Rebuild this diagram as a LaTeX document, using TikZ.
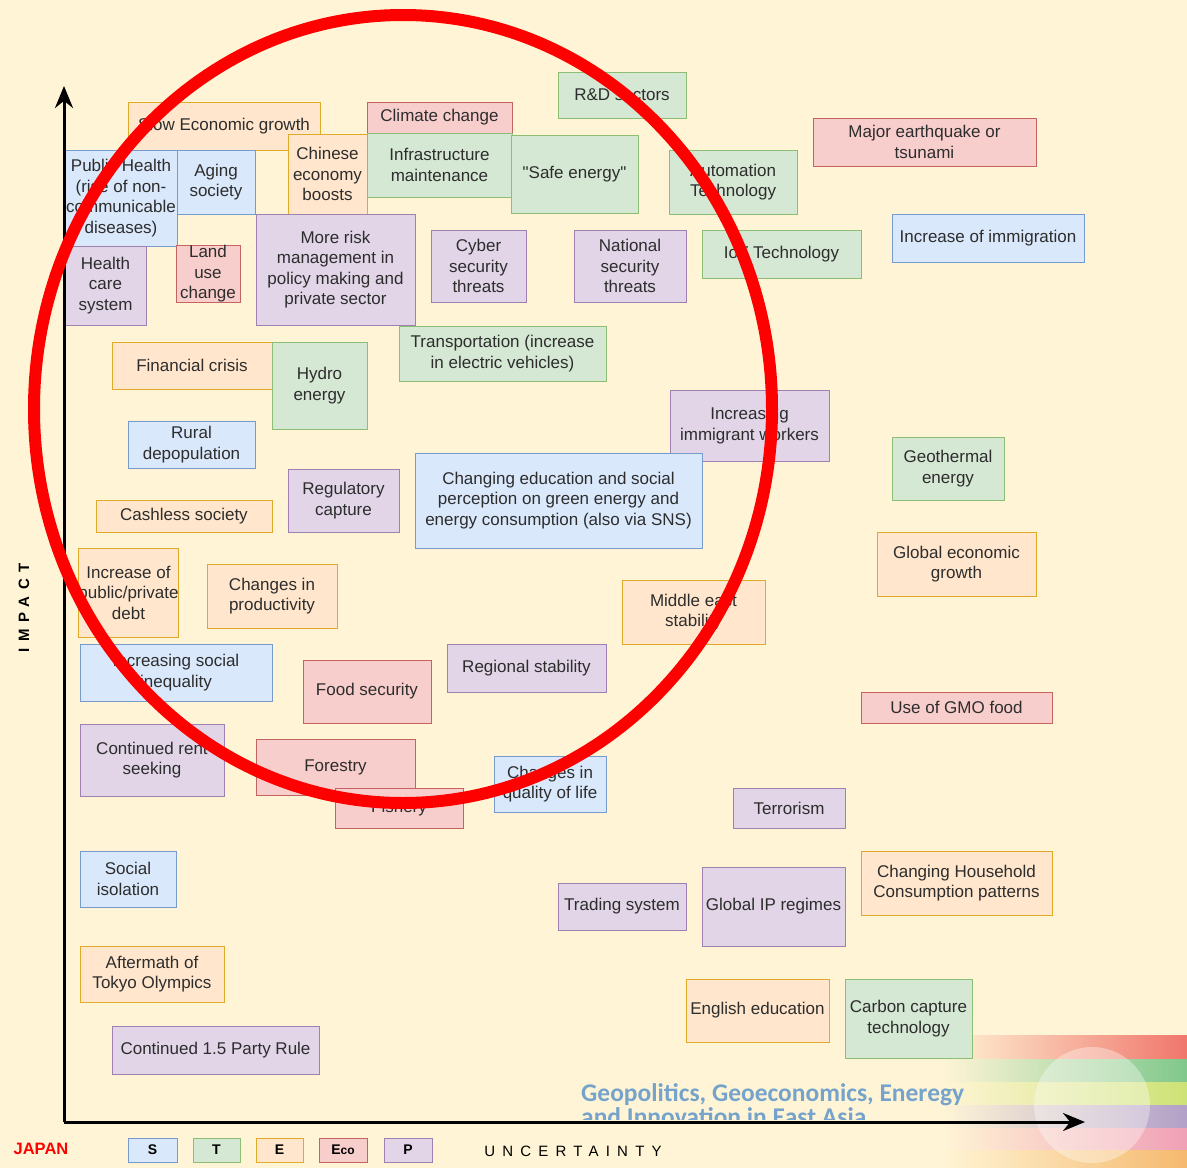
\documentclass[tikz,border=0pt]{standalone}
\usepackage{fontspec}
\setmainfont{Liberation Sans}
\newfontfamily\logofont{Carlito}
\usetikzlibrary{arrows.meta}
\newcommand\straightquote{\XeTeXglyph\XeTeXcharglyph"22\relax}
\definecolor{paper}{RGB}{255,245,214}
\definecolor{socfill}{RGB}{218,232,252}
\definecolor{socline}{RGB}{120,155,205}
\definecolor{tecfill}{RGB}{213,232,212}
\definecolor{tecline}{RGB}{140,190,115}
\definecolor{ecnfill}{RGB}{255,230,204}
\definecolor{ecnline}{RGB}{222,170,40}
\definecolor{ecofill}{RGB}{248,206,204}
\definecolor{ecoline}{RGB}{195,100,96}
\definecolor{polfill}{RGB}{225,213,231}
\definecolor{polline}{RGB}{160,128,176}
\definecolor{logoblue}{RGB}{118,163,203}
\definecolor{boxtext}{RGB}{45,45,45}

\begin{document}
\begin{tikzpicture}[x=1pt,y=-1pt,
  box/.style={draw, line width=0.9pt, inner sep=0pt, outer sep=0pt, align=center,
    text=boxtext, font=\fontsize{17}{20.5}\selectfont},
  social/.style={box, fill=socfill, draw=socline},
  techno/.style={box, fill=tecfill, draw=tecline},
  econ/.style={box, fill=ecnfill, draw=ecnline},
  ecol/.style={box, fill=ecofill, draw=ecoline},
  polit/.style={box, fill=polfill, draw=polline},
  legend/.style={minimum width=48pt, minimum height=24pt, font=\fontsize{14}{14}\selectfont\bfseries, text=black},
  axis/.style={line width=3pt, -{Stealth[length=22pt,width=18pt]}},
  spaced/.style={font=\fontsize{15}{15}\selectfont\addfontfeatures{LetterSpace=48}},
  spacedbold/.style={font=\fontsize{15}{15}\selectfont\bfseries\addfontfeatures{LetterSpace=44}}]
  \useasboundingbox (0,0) rectangle (1187,1168);
  \fill[paper] (0,0) rectangle (1187,1168);

  % corner stripes
  \shade[left color=paper, right color={rgb,255:red,240;green,118;blue,108}] (940,1035) rectangle (1187,1059);
  \shade[left color=paper, right color={rgb,255:red,128;green,200;blue,140}] (940,1059) rectangle (1187,1082);
  \shade[left color=paper, right color={rgb,255:red,205;green,226;blue,118}] (940,1082) rectangle (1187,1105);
  \shade[left color=paper, right color={rgb,255:red,178;green,160;blue,200}] (940,1105) rectangle (1187,1128);
  \shade[left color=paper, right color={rgb,255:red,240;green,160;blue,182}] (940,1128) rectangle (1187,1150);
  \shade[left color=paper, right color={rgb,255:red,245;green,185;blue,110}] (940,1150) rectangle (1187,1168);
  \fill[white, opacity=0.35] (1092,1105) circle (58pt);
  \begin{scope}
    \clip (560,1070) rectangle (1000,1119);
    \node[anchor=base west, inner sep=0pt, text=logoblue, font=\logofont\bfseries\fontsize{25.5}{25.5}\selectfont] (logoa) at (581,1101) {Geopolitics, Geoeconomics, Eneregy};
    \node[anchor=base west, inner sep=0pt, text=logoblue, font=\logofont\bfseries\fontsize{25.5}{25.5}\selectfont] (logob) at (581,1125) {and Innovation in East Asia};
  \end{scope}

  \node[econ, minimum width=192pt, minimum height=48pt] (slow) at (224,126) {Slow Economic growth};
  \node[social, minimum width=112pt, minimum height=96pt] (pubhealth) at (121,198) {Public Health\\(rise of non-\\communicable\\diseases)};
  \node[social, minimum width=78pt, minimum height=64pt] (aging) at (216,182) {Aging\\society};
  \node[econ, minimum width=79pt, minimum height=80pt] (chinese) at (327.5,174) {Chinese\\economy\\boosts};
  \node[ecol, minimum width=145pt, minimum height=31pt] (climate) at (439.5,117.5) {Climate change};
  \node[techno, minimum width=145pt, minimum height=64pt] (infra) at (439.5,165) {Infrastructure\\maintenance};
  \node[techno, minimum width=127pt, minimum height=78pt] (safe) at (574.5,174) {\straightquote Safe energy\straightquote};
  \node[techno, minimum width=128pt, minimum height=46pt] (rnd) at (622,95) {R\&D sectors};
  \node[techno, minimum width=128pt, minimum height=64pt] (automation) at (733,182) {Automation\\Technology};
  \node[ecol, minimum width=223pt, minimum height=48pt] (quake) at (924.5,142) {Major earthquake or\\tsunami};
  \node[polit, minimum width=81pt, minimum height=79pt] (healthcare) at (105.5,285.5) {Health\\care\\system};
  \node[ecol, minimum width=64pt, minimum height=56pt] (landuse) at (208,274) {Land\\use\\change};
  \node[polit, minimum width=159pt, minimum height=111pt] (morerisk) at (335.5,269.5) {More risk\\management in\\policy making and\\private sector};
  \node[polit, minimum width=95pt, minimum height=72pt] (cyber) at (478.5,266) {Cyber\\security\\threats};
  \node[polit, minimum width=112pt, minimum height=72pt] (national) at (630,266) {National\\security\\threats};
  \node[techno, minimum width=159pt, minimum height=48pt] (iot) at (781.5,254) {IoT Technology};
  \node[social, minimum width=192pt, minimum height=48pt] (immigration) at (988,238) {Increase of immigration};
  \node[techno, minimum width=207pt, minimum height=55pt] (transport) at (502.5,353.5) {Transportation (increase\\in electric vehicles)};
  \node[econ, minimum width=160pt, minimum height=47pt] (financial) at (192,365.5) {Financial crisis};
  \node[techno, minimum width=95pt, minimum height=87pt] (hydro) at (319.5,385.5) {Hydro\\energy};
  \node[polit, minimum width=159pt, minimum height=71pt] (immworkers) at (749.5,425.5) {Increasing\\immigrant workers};
  \node[social, minimum width=127pt, minimum height=47pt] (rural) at (191.5,444.5) {Rural\\depopulation};
  \node[techno, minimum width=112pt, minimum height=63pt] (geothermal) at (948,468.5) {Geothermal\\energy};
  \node[social, minimum width=287pt, minimum height=95pt] (education) at (558.5,500.5) {Changing education and social\\perception on green energy and\\energy consumption (also via SNS)};
  \node[polit, minimum width=111pt, minimum height=63pt] (regulatory) at (343.5,500.5) {Regulatory\\capture};
  \node[econ, minimum width=176pt, minimum height=32pt] (cashless) at (184,516) {Cashless society};
  \node[econ, minimum width=159pt, minimum height=64pt] (globalgrowth) at (956.5,564) {Global economic\\growth};
  \node[econ, minimum width=97pt, minimum height=89pt] (debt) at (128.5,592.5) {Increase of\\public/private\\debt};
  \node[econ, minimum width=130pt, minimum height=64pt] (productivity) at (272,596) {Changes in\\productivity};
  \node[econ, minimum width=143pt, minimum height=64pt] (mideast) at (693.5,612) {Middle east\\stability};
  \node[social, minimum width=192pt, minimum height=57pt] (inequality) at (176,672.5) {Increasing social\\inequality};
  \node[polit, minimum width=159pt, minimum height=48pt] (regional) at (526.5,668) {Regional stability};
  \node[ecol, minimum width=128pt, minimum height=63pt] (food) at (367,691.5) {Food security};
  \node[ecol, minimum width=191pt, minimum height=31pt] (gmo) at (956.5,707.5) {Use of GMO food};
  \node[polit, minimum width=144pt, minimum height=72pt] (rent) at (152,760) {Continued rent\\seeking};
  \node[ecol, minimum width=159pt, minimum height=56pt] (forestry) at (335.5,767) {Forestry};
  \node[ecol, minimum width=128pt, minimum height=40pt] (fishery) at (399,808) {Fishery};
  \node[social, minimum width=112pt, minimum height=56pt] (quality) at (550,784) {Changes in\\quality of life};
  \node[polit, minimum width=112pt, minimum height=40pt] (terrorism) at (789,808) {Terrorism};
  \node[social, minimum width=96pt, minimum height=56pt] (isolation) at (128,879) {Social\\isolation};
  \node[econ, minimum width=191pt, minimum height=64pt] (household) at (956.5,883) {Changing Household\\Consumption patterns};
  \node[polit, minimum width=128pt, minimum height=47pt] (trading) at (622,906.5) {Trading system};
  \node[polit, minimum width=143pt, minimum height=79pt] (ipreg) at (773.5,906.5) {Global IP regimes};
  \node[econ, minimum width=144pt, minimum height=56pt] (olympics) at (152,974) {Aftermath of\\Tokyo Olympics};
  \node[econ, minimum width=143pt, minimum height=63pt] (english) at (757.5,1010.5) {English education};
  \node[techno, minimum width=127pt, minimum height=79pt] (carbon) at (908.5,1018.5) {Carbon capture\\technology};
  \node[polit, minimum width=207pt, minimum height=48pt] (partyrule) at (215.5,1050) {Continued 1.5 Party Rule};

  % axes
  \coordinate (origin) at (64,1122);
  \coordinate (ytip) at (64,86);
  \coordinate (xtip) at (1085,1122);
  \draw[axis] (origin) -- (ytip);
  \draw[axis] (origin) -- (xtip);

  \draw[red, line width=12pt] (403,409) ellipse [x radius=369pt, y radius=394pt];

  \node[spacedbold, rotate=90] (impact) at (24,608) {IMPACT};
  \node[spaced] (uncert) at (573,1151) {UNCERTAINTY};
  \node[text=red, font=\fontsize{16.5}{16.5}\selectfont\bfseries] (japan) at (41,1149) {JAPAN};
  \node[social, legend, minimum width=49pt] (legs) at (152.5,1150) {S};
  \node[techno, legend, minimum width=47pt] (legt) at (216.5,1150) {T};
  \node[econ, legend, minimum width=47pt] (lege) at (279.5,1150) {E};
  \node[ecol, legend] (legeco) at (343,1150) {E{\fontsize{12}{12}\selectfont co}};
  \node[polit, legend] (legp) at (408,1150) {P};
\end{tikzpicture}
\end{document}
